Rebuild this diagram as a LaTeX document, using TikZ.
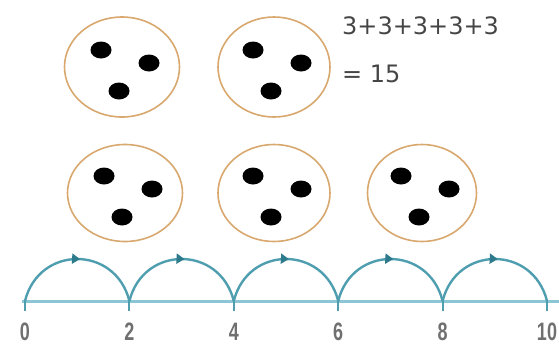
\documentclass[tikz,border=0pt]{standalone}
\usepackage{fontspec}
\setmainfont{DejaVu Sans}
\newfontfamily\labfont{Liberation Sans}
\usetikzlibrary{arrows.meta,decorations.markings,calc,shapes.geometric}
\definecolor{ringcol}{HTML}{D8A86F}
\definecolor{linecol}{HTML}{8CC6D6}
\definecolor{arccol}{HTML}{4F9EB0}
\definecolor{tipcol}{HTML}{2D7A8C}
\definecolor{txtcol}{HTML}{454545}
\definecolor{labcol}{HTML}{707070}
\tikzset{
  ring/.style={ellipse,draw=ringcol,line width=1.6pt,minimum width=114pt,minimum height=100pt,inner sep=0pt},
  dotfill/.style={fill=black},
  jump/.style={draw=arccol,line width=2.4pt,
    decoration={markings,mark=at position 0.52 with {\arrow[tipcol]{Triangle[length=8pt,width=10pt]}}},
    postaction={decorate}},
  numline/.style={draw=linecol,line width=3pt},
  tickmark/.style={draw=arccol,line width=2pt},
  numlab/.style={font=\labfont\bfseries\fontsize{18}{18}\selectfont,text=labcol,inner sep=0pt,yscale=1.4,transform shape},
  sumtxt/.style={font=\fontsize{24}{24}\selectfont,text=txtcol,inner sep=0pt,anchor=base west}
}
\begin{document}
\begin{tikzpicture}[x=1pt,y=-1pt]
\useasboundingbox (0,0) rectangle (559,349);
% rings
\node[ring,minimum width=115pt,minimum height=100pt] (c1) at (122,67) {};
\node[ring,minimum width=112pt,minimum height=100pt] (c2) at (274,67) {};
\node[ring,minimum width=115pt,minimum height=97pt] (c3) at (125,193) {};
\node[ring,minimum width=112pt,minimum height=97pt] (c4) at (274,193) {};
\node[ring,minimum width=109pt,minimum height=97pt] (c5) at (422,193) {};
% dots
\foreach \c in {c1,c2,c3,c4,c5}{
  \fill[dotfill] ($(\c)+(-21,-17)$) ellipse [x radius=10.5pt,y radius=8.5pt];
  \fill[dotfill] ($(\c)+(27,-4)$) ellipse [x radius=10.5pt,y radius=8.5pt];
  \fill[dotfill] ($(\c)+(-3,24)$) ellipse [x radius=10.5pt,y radius=8.5pt];
}
% text
\node[sumtxt] (sum) at (342,34) {3+3+3+3+3};
\node[sumtxt] (res) at (342,82) {= 15};
% number line
\coordinate (start) at (22,301);
\coordinate (finish) at (559,301);
\draw[numline] (start) -- (finish);
\foreach \i/\x in {0/25,2/129.4,4/233.8,6/338.2,8/442.6,10/547}{
  \coordinate (t\i) at (\x,301);
  \draw[tickmark] (t\i) -- ++(0,10);
  \node[numlab] (l\i) at (\x,332) {\i};
}
\foreach \a/\b in {0/2,2/4,4/6,6/8,8/10}{
  \path[jump] (t\a) .. controls +(14,-56) and +(-14,-56) .. (t\b);
}
\end{tikzpicture}
\end{document}
